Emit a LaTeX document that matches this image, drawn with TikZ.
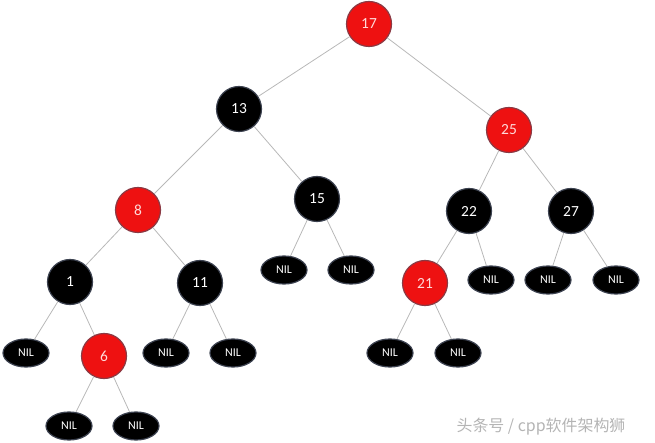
\documentclass[tikz,border=0pt]{standalone}
\usepackage{fontspec}
\setmainfont{Carlito}
\newfontfamily\cjk{Noto Sans CJK SC}
\definecolor{nodered}{HTML}{EE1111}
\definecolor{redrim}{HTML}{8A3A44}
\definecolor{blackrim}{HTML}{3C4250}
\definecolor{edgegray}{HTML}{B8B8B8}
\definecolor{markgray}{HTML}{B4B4B4}
\tikzset{
  blk/.style={circle, draw=blackrim, line width=1.2bp, fill=black, text=white,
    minimum size=45bp, inner sep=0pt, font=\fontsize{15.5}{15.5}\selectfont},
  red/.style={blk, draw=redrim, fill=nodered, text=white!85!red},
  nil/.style={ellipse, draw=blackrim, line width=1.2bp, fill=black, text=white,
    minimum width=46bp, minimum height=28bp, inner sep=0pt,
    font=\fontsize{12}{12}\selectfont},
  link/.style={draw=edgegray, line width=0.8bp}
}
\usetikzlibrary{shapes.geometric}
\begin{document}
\begin{tikzpicture}[x=1bp,y=-1bp]
  \useasboundingbox (0,0) rectangle (655,443);

  % inner nodes
  \node[red] (n17) at (369,24) {17};
  \node[blk] (n13) at (239,109) {13};
  \node[red] (n25) at (509,130) {25};
  \node[red] (n8) at (138,210) {8};
  \node[blk] (n15) at (317,199) {15};
  \node[blk] (n22) at (469,211) {22};
  \node[blk] (n27) at (571,211) {27};
  \node[blk] (n1) at (70,282) {1};
  \node[blk] (n11) at (200,283) {11};
  \node[red] (n21) at (425,283) {21};
  \node[red] (n6) at (104,356) {6};

  % leaves
  \node[nil] (l15a) at (284,270) {NIL};
  \node[nil] (l15b) at (351,270) {NIL};
  \node[nil] (l22b) at (491,280) {NIL};
  \node[nil] (l27a) at (548,280) {NIL};
  \node[nil] (l27b) at (616,280) {NIL};
  \node[nil] (l1a) at (26,353) {NIL};
  \node[nil] (l11a) at (166,353) {NIL};
  \node[nil] (l11b) at (233,353) {NIL};
  \node[nil] (l21a) at (390,353) {NIL};
  \node[nil] (l21b) at (458,353) {NIL};
  \node[nil] (l6a) at (69,426) {NIL};
  \node[nil] (l6b) at (136,426) {NIL};

  % links
  \draw[link] (n17) -- (n13);
  \draw[link] (n17) -- (n25);
  \draw[link] (n13) -- (n8);
  \draw[link] (n13) -- (n15);
  \draw[link] (n25) -- (n22);
  \draw[link] (n25) -- (n27);
  \draw[link] (n8) -- (n1);
  \draw[link] (n8) -- (n11);
  \draw[link] (n15) -- (l15a);
  \draw[link] (n15) -- (l15b);
  \draw[link] (n22) -- (n21);
  \draw[link] (n22) -- (l22b);
  \draw[link] (n27) -- (l27a);
  \draw[link] (n27) -- (l27b);
  \draw[link] (n1) -- (l1a);
  \draw[link] (n1) -- (n6);
  \draw[link] (n11) -- (l11a);
  \draw[link] (n11) -- (l11b);
  \draw[link] (n21) -- (l21a);
  \draw[link] (n21) -- (l21b);
  \draw[link] (n6) -- (l6a);
  \draw[link] (n6) -- (l6b);

  \node[text=markgray, font=\cjk\fontsize{16}{16}\selectfont] (mark) at (541,427) {头条号 / cpp软件架构狮};
\end{tikzpicture}
\end{document}
